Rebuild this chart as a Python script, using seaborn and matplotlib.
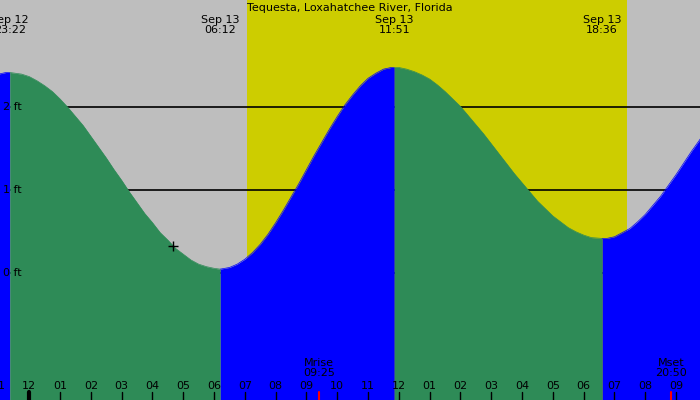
import numpy as np
import pandas as pd
import seaborn as sns
import matplotlib.pyplot as plt
import matplotlib.transforms as mtransforms

# tide curve (hours from midnight Sep 13, feet)
tide_hours = [-1.5, -1.25, -1.0, -0.75, -0.633, -0.25, 0, 0.25, 0.5, 0.75, 1, 1.25, 1.5, 1.75,
              2, 2.25, 2.5, 2.75, 3, 3.25, 3.5, 3.75, 4, 4.25, 4.5, 4.75, 5, 5.25, 5.5, 5.75,
              6, 6.2,
              6.5, 6.75, 7, 7.25, 7.5, 7.75, 8, 8.25, 8.5, 8.75, 9, 9.25, 9.5, 9.75, 10, 10.25,
              10.5, 10.75, 11, 11.25, 11.5, 11.75, 11.85,
              12, 12.25, 12.5, 12.75, 13, 13.25, 13.5, 13.75, 14, 14.25, 14.5, 14.75, 15, 15.25,
              15.5, 15.75, 16, 16.25, 16.5, 16.75, 17, 17.25, 17.5, 17.75, 18, 18.25, 18.6,
              18.75, 19, 19.25, 19.5, 19.75, 20, 20.25, 20.5, 20.75, 21, 21.25, 21.5, 21.75, 22]
tide_ft = [2.30, 2.36, 2.40, 2.42, 2.42, 2.40, 2.37, 2.32, 2.26, 2.19, 2.10, 2.00, 1.89, 1.78,
           1.65, 1.52, 1.39, 1.25, 1.12, 0.98, 0.85, 0.72, 0.61, 0.49, 0.40, 0.30, 0.23, 0.16, 0.11, 0.08,
           0.06, 0.05,
           0.07, 0.11, 0.17, 0.25, 0.35, 0.47, 0.61, 0.76, 0.92, 1.08, 1.25, 1.42, 1.58, 1.74, 1.89, 2.03,
           2.15, 2.26, 2.35, 2.41, 2.46, 2.48, 2.48,
           2.48, 2.46, 2.43, 2.39, 2.34, 2.27, 2.19, 2.10, 2.01, 1.90, 1.79, 1.68, 1.56, 1.44,
           1.32, 1.20, 1.09, 0.98, 0.87, 0.78, 0.69, 0.62, 0.55, 0.50, 0.46, 0.43, 0.42,
           0.42, 0.44, 0.49, 0.54, 0.62, 0.71, 0.82, 0.93, 1.06, 1.19, 1.33, 1.47, 1.60, 1.74]

# high / low tides
extreme_hours = [-0.633, 6.2, 11.85, 18.6]
extreme_labels = ["Sep 12\n23:22", "Sep 13\n06:12", "Sep 13\n11:51", "Sep 13\n18:36"]

# daylight
sunrise = 7.06
sunset = 19.42

# moon
moon_hours = [9.417, 20.833]
moon_labels = ["Mrise\n09:25", "Mset\n20:50"]

# hour ticks along the bottom
tick_hours = list(range(-1, 22))
tick_labels = ["11", "12", "01", "02", "03", "04", "05", "06", "07", "08", "09", "10", "11",
               "12", "01", "02", "03", "04", "05", "06", "07", "08", "09"]

level_lines = [0, 1, 2]
level_labels = ["0 ft", "1 ft", "2 ft"]

now_hour = 4.67
now_ft = 0.33

title = "Tequesta, Loxahatchee River, Florida"

# colours
bg_night = "#BEBEBE"
bg_day = "#CDCD00"
col_rise = "#0000FF"
col_fall = "#2E8B57"

sns.set_style("white")
plt.rcParams["font.family"] = ["DejaVu Sans"]
plt.rcParams["text.color"] = "black"

df = pd.DataFrame({"hour": tide_hours, "ft": tide_ft})

fig = plt.figure(figsize=(7, 4), dpi=100)
ax = fig.add_axes([0, 0, 1, 1])
ax.set_facecolor(bg_night)
ax.set_xlim(-0.951, 21.776)
ax.set_ylim(-1.527, 3.293)

ax.axvspan(sunrise, sunset, color=bg_day, lw=0, zorder=0)

for lv in level_lines:
    ax.axhline(lv, color="black", lw=1.2, zorder=1)

# fill each rising / falling stretch
bounds = [df["hour"].min()] + extreme_hours + [df["hour"].max()]
for a, b in zip(bounds[:-1], bounds[1:]):
    seg = df[(df["hour"] >= a) & (df["hour"] <= b)]
    rising = seg["ft"].iloc[-1] > seg["ft"].iloc[0]
    c = col_rise if rising else col_fall
    ax.fill_between(seg["hour"], seg["ft"], -2, color=c, lw=0, zorder=2)
    sns.lineplot(data=seg, x="hour", y="ft", color=c, lw=0.5, ax=ax, zorder=2)

ax.plot([now_hour], [now_ft], marker="+", color="black", ms=7, mew=1, zorder=4)

trans = mtransforms.blended_transform_factory(ax.transData, ax.transAxes)

for lv, lab in zip(level_lines, level_labels):
    ax.text(-0.86, lv, lab, fontsize=8, va="center", ha="left", zorder=5)

ax.text(10.41, 0.98, title, transform=trans, fontsize=8, ha="center", va="center")
for h, lab in zip(extreme_hours, extreme_labels):
    ax.text(h, 0.9375, lab, transform=trans, fontsize=8, ha="center", va="center",
            linespacing=1.0)

for h, lab in zip(tick_hours, tick_labels):
    ax.text(h, 0.035, lab, transform=trans, fontsize=8, ha="center", va="center")
    ax.axvline(h, ymin=0, ymax=0.02, color="black", lw=3 if h == 0 else 1, zorder=5)

for h, lab in zip(moon_hours, moon_labels):
    ax.text(h, 0.08, lab, transform=trans, fontsize=8, ha="center", va="center",
            linespacing=1.0)
    ax.axvline(h, ymin=0, ymax=0.02, color="red", lw=1.5, zorder=6)

ax.set_xticks([])
ax.set_yticks([])
ax.set_xlabel("")
ax.set_ylabel("")
for s in ax.spines.values():
    s.set_visible(False)

fig.savefig("out.png", dpi=100)
